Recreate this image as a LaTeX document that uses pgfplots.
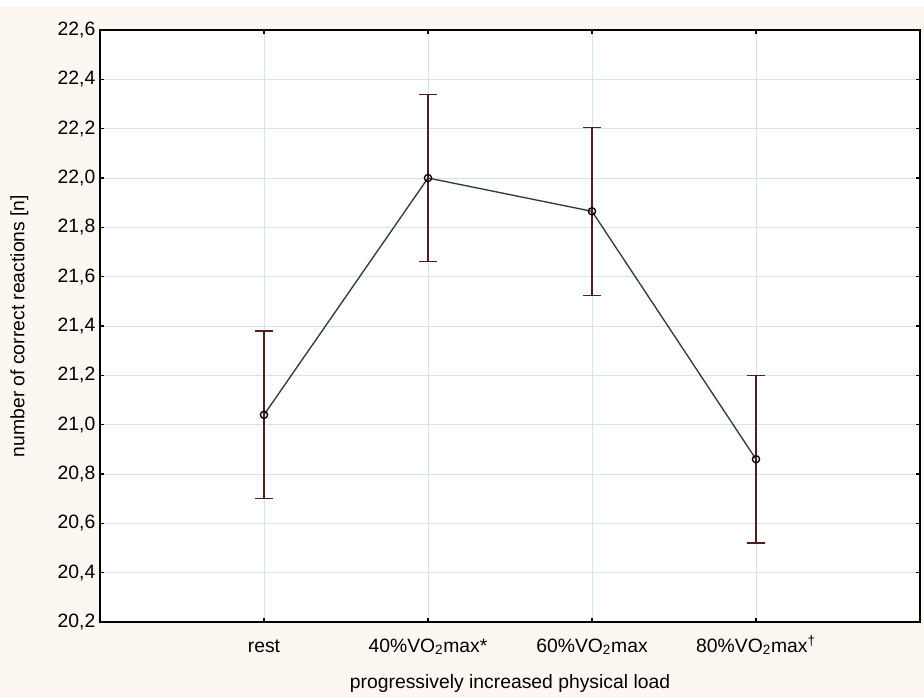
\documentclass[border=0pt]{standalone}
\usepackage{pgfplots}
\pgfplotsset{compat=1.18}
\usepackage{fontspec}
\setmainfont{Liberation Sans}
\definecolor{bgcream}{HTML}{FCF8F1}
\definecolor{gridblue}{HTML}{D3E4EE}
\definecolor{errred}{HTML}{4E1E1E}
\definecolor{linegray}{HTML}{2E3B3E}
\begin{document}
\begin{tikzpicture}
\fill[bgcream] (-75pt,-56.25pt) rectangle (618pt,461.25pt);
\fill[white] (-75pt,461.25pt) rectangle (618pt,466.5pt);
\begin{axis}[
  at={(0,0)}, anchor=south west,
  scale only axis,
  width=615pt, height=444pt,
  xmin=-1, xmax=4,
  ymin=20.2, ymax=22.6,
  xtick={0,1,2,3},
  xticklabels={rest, 40\%VO\textsubscript{2}max*, 60\%VO\textsubscript{2}max, 80\%VO\textsubscript{2}max\textsuperscript{†}},
  ytick={20.2,20.4,...,22.6},
  yticklabel style={/pgf/number format/.cd, fixed, fixed zerofill, precision=1, use comma, assume math mode=true},
  tick label style={font=\fontsize{14.5}{17}\selectfont, black},
  label style={font=\fontsize{14.5}{17}\selectfont, black},
  xticklabel style={yshift=-8pt, text height=11pt, text depth=3pt},
  xlabel={progressively increased physical load},
  ylabel={number of correct reactions [n]},
  xlabel style={yshift=-7pt},
  ylabel style={yshift=15pt},
  grid=major,
  major grid style={gridblue, line width=0.6pt},
  tick align=inside,
  major tick length=3pt,
  tick style={black, line width=0.8pt},
  axis line style={black, line width=1.1pt},
  axis background/.style={fill=white},
  clip=false,
]
\addplot[color=linegray, line width=1pt,
  mark=o, mark size=2.7pt, mark options={black, line width=1pt, fill=none},
  error bars/.cd, y dir=both, y explicit,
  error bar style={errred, line width=0.9pt},
  error mark options={errred, rotate=90, mark size=6.5pt, line width=0.9pt}]
coordinates {
  (0,21.04) +- (0,0.34)
  (1,22.00) +- (0,0.34)
  (2,21.865) +- (0,0.34)
  (3,20.86) +- (0,0.34)
};
\end{axis}
\end{tikzpicture}
\end{document}
